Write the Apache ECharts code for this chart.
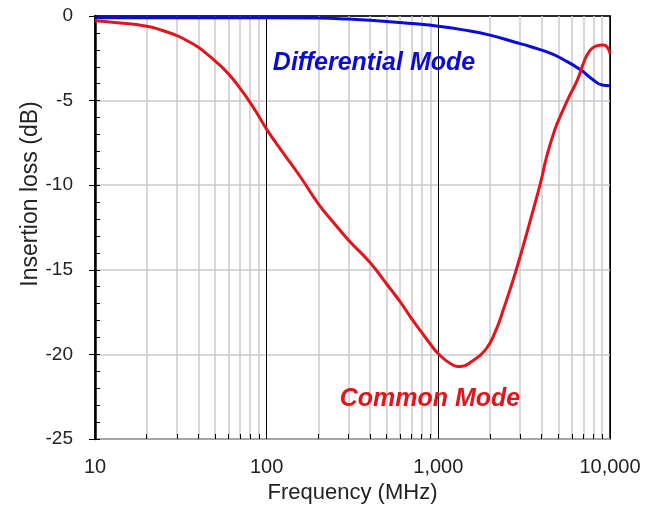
<!DOCTYPE html>
<html>
<head>
<meta charset="utf-8">
<script src="https://cdn.jsdelivr.net/npm/echarts@6/dist/echarts.min.js"></script>
<style>
  html, body {margin: 0; padding: 0; background: #fff;}
  #chart {width: 655px; height: 509px;}
</style>
</head>
<body>
<div id="chart"></div>
<script>
// frequency (MHz) / insertion loss (dB)
const commonFreq = [10, 13, 20, 24.4, 30, 34, 40, 44, 50, 60, 70, 80, 90, 100, 125, 157, 200, 245, 300, 400, 500, 600, 700, 800, 900, 1000,
  1180, 1350, 1550, 1890, 2160, 2420, 2700, 3000, 3160, 3540, 3950, 4280, 4770, 5170, 5780, 6460, 7000, 7550, 8260, 9160, 10000];
const commonLoss = [-0.28, -0.38, -0.6, -0.84, -1.16, -1.43, -1.85, -2.18, -2.65, -3.43, -4.28, -5.1, -5.92, -6.7, -8.1, -9.5, -11.1, -12.2, -13.25, -14.57, -15.84, -16.9, -17.9, -18.7, -19.4, -19.96,
  -20.55, -20.72, -20.45, -19.7, -18.6, -17.2, -15.74, -14.2, -13.4, -11.6, -9.8, -8.3, -6.72, -5.85, -4.76, -3.78, -2.8, -2.12, -1.78, -1.72, -2.21];

const diffFreq = [10, 50, 100, 200, 300, 400, 700, 1000, 1400, 2000, 2800, 3460, 4520, 5410, 6760, 8000, 9000, 10000];
const diffLoss = [-0.1, -0.1, -0.1, -0.12, -0.18, -0.25, -0.45, -0.6, -0.82, -1.13, -1.55, -1.82, -2.21, -2.6, -3.19, -3.78, -4.08, -4.12];

const xTickValues = [10, 100, 1000, 10000];
const xTickLabels = ['10', '100', '1,000', '10,000'];
const minorFreqs = [20, 30, 40, 50, 60, 70, 80, 90, 200, 300, 400, 500, 600, 700, 800, 900,
  2000, 3000, 4000, 5000, 6000, 7000, 8000, 9000];

const FONT = "'Liberation Sans', Arial, Helvetica, sans-serif";
const RED = '#e3141c';
const BLUE = '#0a0adc';
const GRAY = '#cacaca';

const myChart = echarts.init(document.getElementById('chart'), null, {renderer: 'canvas'});

const pairs = (xs, ys) => xs.map((x, i) => [x, ys[i]]);

// minor x ticks: 5px long, pointing inside, expressed in dB (plot is 424px for 25 dB)
const tickLen = 5 * 25 / 424;

const markData = minorFreqs.map(f => ({xAxis: f, lineStyle: {color: GRAY, width: 1.5, type: 'solid'}}))
  .concat(minorFreqs.map(f => [
    {coord: [f, -25], lineStyle: {color: '#000', width: 1, type: 'solid'}},
    {coord: [f, -25 + tickLen]}
  ]));

const option = {
  animation: false,
  backgroundColor: '#fff',
  textStyle: {fontFamily: FONT},
  grid: {
    left: 95, right: 45, top: 16, bottom: 69,
    show: true,
    borderColor: '#000',
    borderWidth: 1.5,
    backgroundColor: 'transparent'
  },
  xAxis: {
    type: 'log',
    logBase: 10,
    min: 10,
    max: 10000,
    name: 'Frequency (MHz)',
    nameLocation: 'middle',
    nameGap: 43,
    nameTextStyle: {fontSize: 22, color: '#222', fontFamily: FONT},
    axisLine: {lineStyle: {color: '#000', width: 1.5}},
    axisTick: {show: true, inside: false, length: 6, lineStyle: {color: '#000', width: 1}},
    axisLabel: {
      fontSize: 20, color: '#222', margin: 18, fontFamily: FONT,
      formatter: (v) => {
        const i = xTickValues.findIndex(t => Math.abs(t - v) < 1e-6 * t);
        return i >= 0 ? xTickLabels[i] : '';
      }
    },
    splitLine: {show: true, lineStyle: {color: '#000', width: 1}}
  },
  yAxis: [{
    type: 'value',
    min: -25,
    max: 0,
    interval: 5,
    axisLine: {show: true, lineStyle: {color: '#000', width: 2.5}},
    axisTick: {show: true, inside: false, length: 6, lineStyle: {color: '#000', width: 1}},
    axisLabel: {fontSize: 19, color: '#222', margin: 22, fontFamily: FONT},
    splitLine: {show: true, lineStyle: {color: GRAY, width: 1.5}}
  }, {
    type: 'value',
    position: 'left',
    min: -25,
    max: 0,
    interval: 1,
    axisLine: {show: false},
    axisTick: {show: true, inside: true, length: 5, lineStyle: {color: '#000', width: 1}},
    axisLabel: {show: false},
    splitLine: {show: false}
  }],
  series: [{
    name: 'grid',
    type: 'line',
    data: [],
    silent: true,
    markLine: {
      silent: true,
      z: 1,
      symbol: ['none', 'none'],
      label: {show: false},
      emphasis: {disabled: true},
      data: markData
    }
  }, {
    name: 'Differential Mode',
    type: 'line',
    data: pairs(diffFreq, diffLoss),
    smooth: 0.5,
    showSymbol: false,
    z: 3,
    lineStyle: {color: BLUE, width: 3}
  }, {
    name: 'Common Mode',
    type: 'line',
    data: pairs(commonFreq, commonLoss),
    smooth: 0.5,
    showSymbol: false,
    z: 4,
    lineStyle: {color: RED, width: 3}
  }],
  graphic: [{
    type: 'text',
    x: 31, y: 194,
    rotation: Math.PI / 2,
    style: {
      text: 'Insertion loss (dB)',
      fontSize: 23, fontFamily: FONT, fill: '#222',
      align: 'center', verticalAlign: 'middle'
    }
  }, {
    type: 'text',
    x: 374, y: 63,
    z: 10,
    style: {
      text: 'Differential Mode',
      fontSize: 25, fontWeight: 'bold', fontStyle: 'italic', fontFamily: FONT, fill: '#0b0bd6',
      align: 'center', verticalAlign: 'middle'
    }
  }, {
    type: 'text',
    x: 430, y: 399,
    z: 10,
    style: {
      text: 'Common Mode',
      fontSize: 25, fontWeight: 'bold', fontStyle: 'italic', fontFamily: FONT, fill: '#e3141c',
      align: 'center', verticalAlign: 'middle'
    }
  }]
};

myChart.setOption(option);
window.addEventListener('resize', () => myChart.resize());
</script>
</body>
</html>
